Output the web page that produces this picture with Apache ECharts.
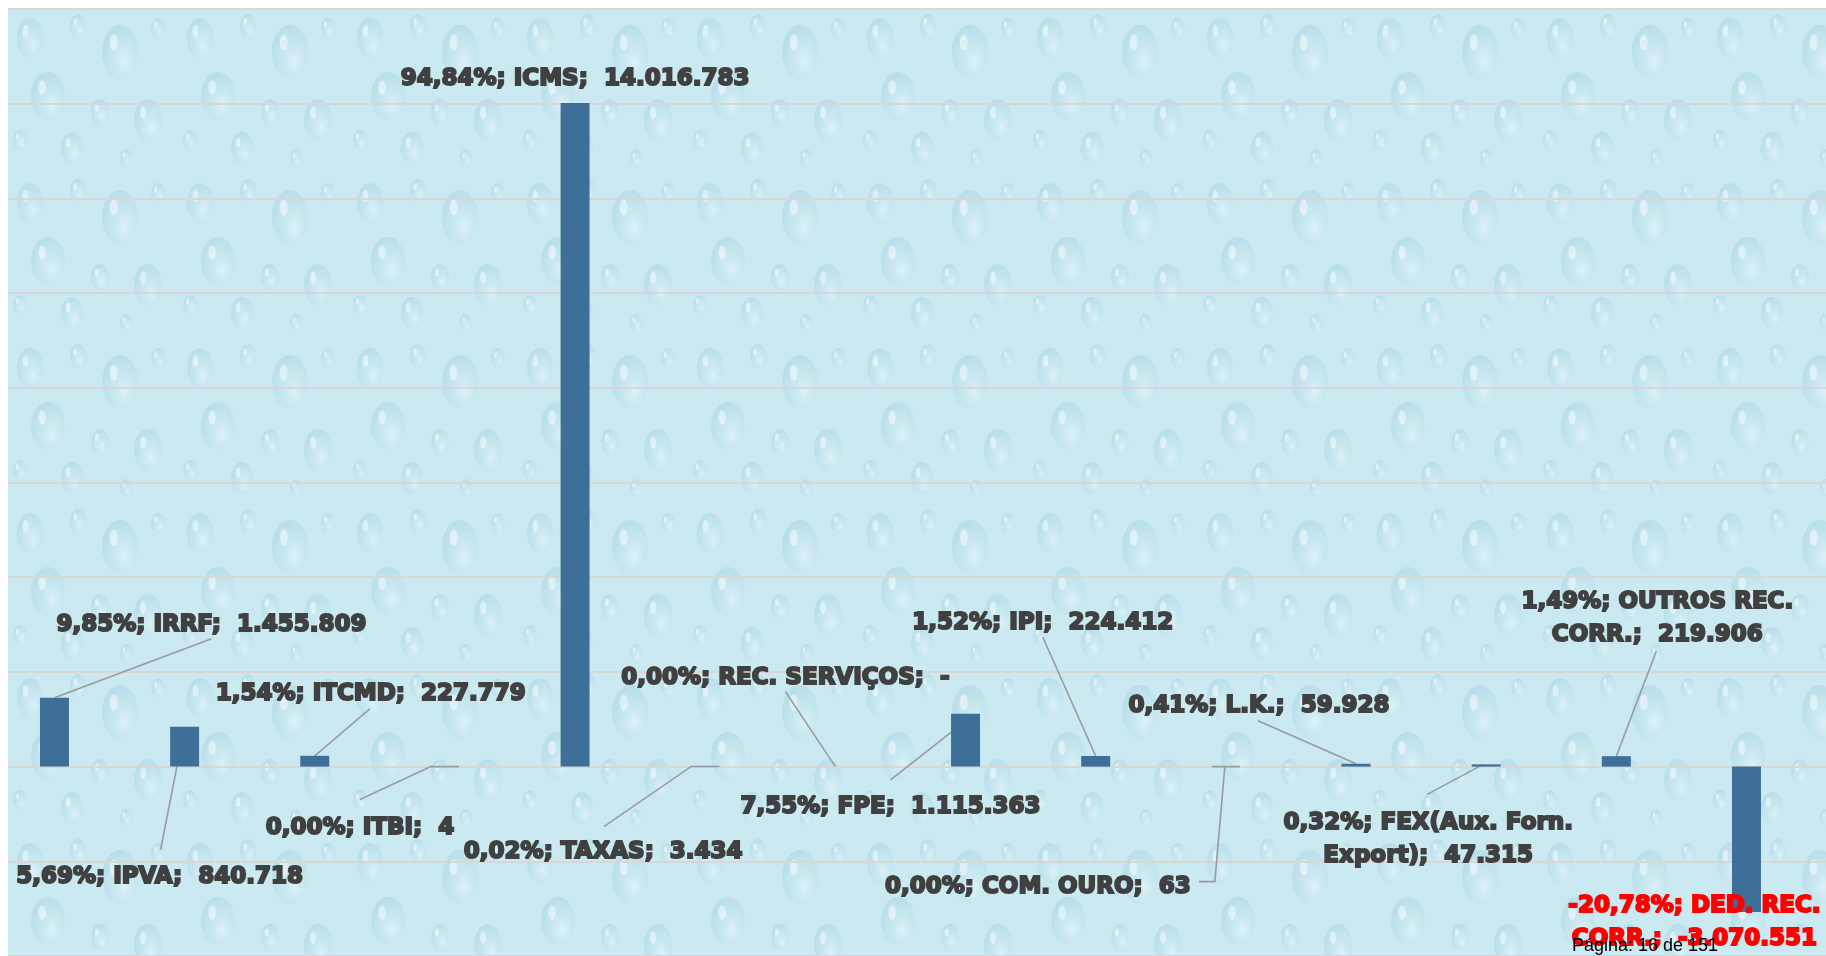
<!DOCTYPE html>
<html>
<head>
<meta charset="utf-8">
<script src="https://cdn.jsdelivr.net/npm/echarts@6/dist/echarts.min.js"></script>
<style>
  html, body { margin: 0; padding: 0; background: #fff; }
  .container { position: relative; width: 1826px; height: 956px; overflow: hidden; background: #fff; }
  /* water drops backdrop, the tile is set from the script below */
  .water {
    position: absolute; left: 8px; top: 8px; right: 0; bottom: 0;
    background-color: #cae9f1;
  }
  #chart { position: absolute; left: 0; top: 0; width: 1826px; height: 956px; }
</style>
</head>
<body>
<div class="container">
  <div class="water" id="water"></div>
  <div id="chart"></div>
</div>
<script>
// data
const categories = ['IRRF', 'IPVA', 'ITCMD', 'ITBI', 'ICMS', 'TAXAS', 'REC. SERVIÇOS', 'FPE', 'IPI',
  'COM. OURO', 'L.K.', 'FEX(Aux. Forn. Export)', 'OUTROS REC. CORR.', 'DED. REC. CORR.']
const values = [1455809, 840718, 227779, 4, 14016783, 3434, 0, 1115363, 224412, 63, 59928, 47315, 219906, -3070551]
const percents = ['9,85%', '5,69%', '1,54%', '0,00%', '94,84%', '0,02%', '0,00%', '7,55%', '1,52%',
  '0,00%', '0,41%', '0,32%', '1,49%', '-20,78%']

// label placement (px from bar end) and leader lines
const labelOffset = [[157, -77], [-25, 146], [56, -66], [-85, 57], [0, -28], [-102, 82], [-50, -93],
  [-75, 89], [-53, -137], [-188, 116], [-97, -62], [-58, 71], [41, -142], [-52, 7]]
const leaders = [
  [[0, 0], [157, -59]],
  [[0, 0], [-24, 123]],
  [[0, 0], [55, -47]],
  [[14, 0], [-14, 0], [-85, 33]],
  null,
  [[14, 0], [-14, 0], [-101, 60]],
  [[0, 0], [-50, -75]],
  [[9, 0], [-75, 66]],
  [[0, 0], [-53, -119]],
  [[14, 0], [-14, 0], [-1, 0], [-11, 115], [-27, 115]],
  [[0, 0], [-98, -43]],
  [[-3, 0], [-59, 30]],
  [[0, 0], [40, -105]],
  null,
]
const breakBefore = { 11: 'Export', 12: 'CORR.', 13: 'CORR.' }

// decorative drop tile (cx, cy, rx, ry)
const drops = [[22, 30, 13, 20], [70, 18, 8, 12], [112, 44, 18, 27], [150, 20, 7, 10], [40, 88, 17, 24],
  [92, 104, 9, 13], [140, 112, 14, 21], [12, 132, 7, 10], [64, 140, 11, 16], [118, 150, 6, 9]]

function dropTile() {
  let s = '<svg xmlns="http://www.w3.org/2000/svg" width="170" height="165">' +
    '<defs><radialGradient id="g" cx="0.62" cy="0.68" r="0.7">' +
    '<stop offset="0" stop-color="#e6f6fa" stop-opacity="0.7"/>' +
    '<stop offset="0.55" stop-color="#bde1ec" stop-opacity="0.4"/>' +
    '<stop offset="1" stop-color="#9dcddd" stop-opacity="0.4"/></radialGradient></defs>'
  drops.forEach((d) => {
    s += '<ellipse cx="' + d[0] + '" cy="' + d[1] + '" rx="' + d[2] + '" ry="' + d[3] + '" fill="url(#g)"/>'
    s += '<ellipse cx="' + (d[0] - d[2] * 0.35) + '" cy="' + (d[1] - d[3] * 0.35) + '" rx="' + d[2] * 0.22 +
      '" ry="' + d[3] * 0.3 + '" fill="#ffffff" fill-opacity="0.5"/>'
  })
  s += '</svg>'
  return 'url("data:image/svg+xml,' + encodeURIComponent(s) + '")'
}
document.getElementById('water').style.backgroundImage = dropTile()

function fmt(v) {
  if (v === 0) return '-'
  const s = String(Math.abs(v)).replace(/\B(?=(\d{3})+(?!\d))/g, '.')
  return v < 0 ? '-' + s : s
}

const myChart = echarts.init(document.getElementById('chart'), null, { renderer: 'canvas' })

myChart.setOption({
  animation: false,
  backgroundColor: 'transparent',
  grid: { left: 8, right: 0, top: 9, bottom: -5 },
  // plot area runs past the first band on the left (cropped), so x is a value axis over category index
  xAxis: {
    type: 'value',
    min: -0.357,
    max: 13.611,
    axisLine: { show: false },
    axisTick: { show: false },
    axisLabel: { show: false },
    splitLine: { show: false },
  },
  yAxis: {
    type: 'value',
    min: -4000000,
    max: 16000000,
    interval: 2000000,
    axisLine: { show: false },
    axisTick: { show: false },
    axisLabel: { show: false },
    splitLine: { lineStyle: { color: '#d9d6d6', width: 2 } },
  },
  series: [
    {
      type: 'bar',
      barWidth: 29,
      itemStyle: { color: '#3e6f98' },
      data: values.map((v, i) =>
        v < 0 ? { value: [i, v], label: { color: '#ff0000', textBorderColor: '#ff0000' } } : [i, v]),
      label: {
        show: true,
        fontFamily: 'DejaVu Sans',
        fontWeight: 'bold',
        fontSize: 23,
        lineHeight: 33,
        color: '#404040',
        textBorderColor: '#404040',
        textBorderWidth: 2,
        formatter: (p) => {
          const i = p.dataIndex
          const txt = percents[i] + '; ' + categories[i] + ';  ' + fmt(values[i])
          const b = breakBefore[i]
          return b ? txt.replace(' ' + b, '\n' + b) : txt
        },
      },
      labelLayout: (p) => {
        const i = p.dataIndex
        const r = p.rect
        const endY = values[i] >= 0 ? r.y : r.y + r.height
        return {
          x: r.x + r.width / 2 + labelOffset[i][0],
          y: endY + labelOffset[i][1] + 4,
          align: 'center',
          verticalAlign: 'middle',
        }
      },
      z: 3,
    },
    {
      type: 'custom',
      silent: true,
      data: values.map((v, i) => [i, v]),
      renderItem: (params, api) => {
        const i = params.dataIndex
        if (!leaders[i]) return null
        const pt = api.coord([i, values[i]])
        return {
          type: 'polyline',
          shape: { points: leaders[i].map((d) => [pt[0] + d[0], pt[1] + d[1]]) },
          style: { stroke: '#9a9a9a', lineWidth: 1.6, fill: null },
        }
      },
      z: 2,
    },
  ],
  graphic: [
    {
      type: 'text',
      left: 1572,
      top: 937,
      z: 100,
      style: { text: 'Página: 16 de 151', font: '18px "Liberation Sans"', fill: '#000' },
    },
  ],
})
</script>
</body>
</html>
